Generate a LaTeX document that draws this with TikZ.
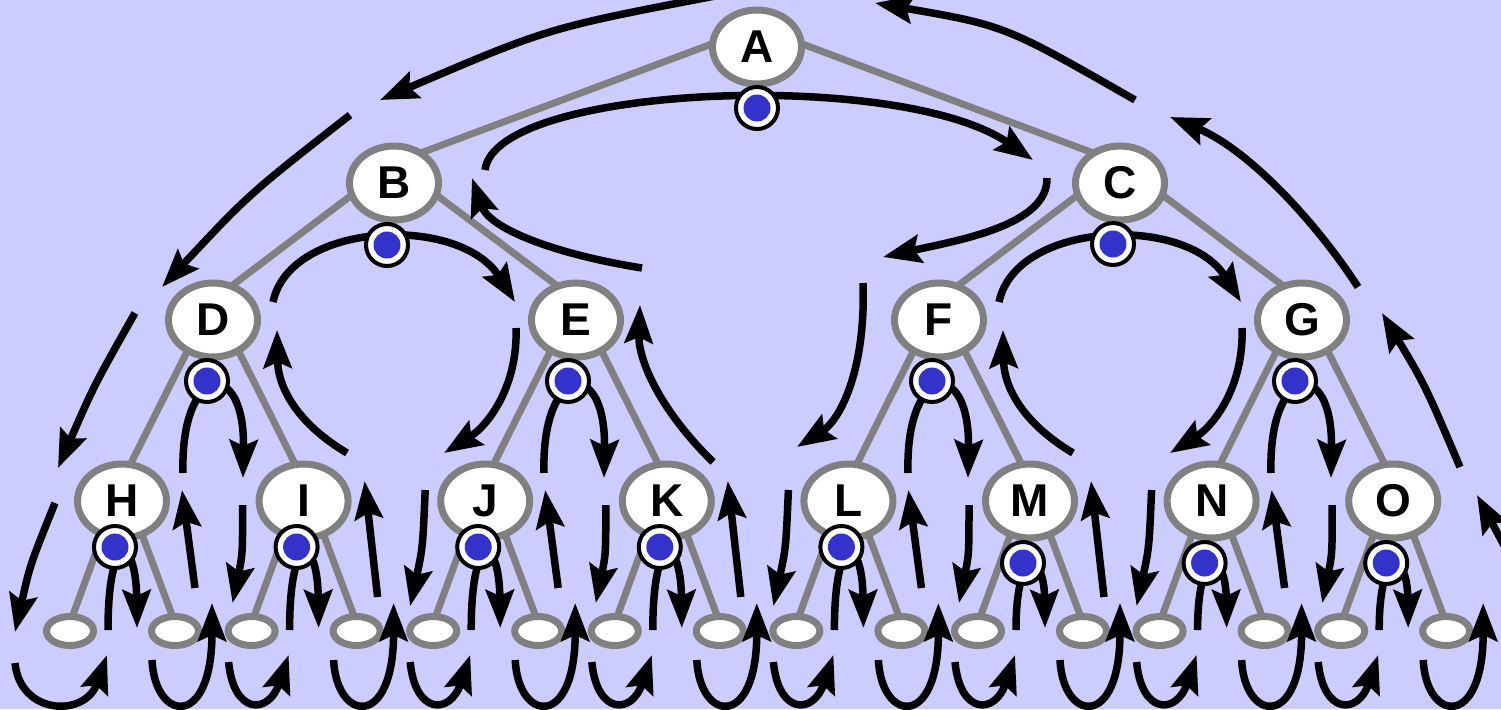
\documentclass[tikz,border=0pt]{standalone}
\usepackage{fontspec}
\setmainfont{Liberation Sans}
\usetikzlibrary{shapes.geometric,arrows.meta,calc}
\definecolor{bgc}{RGB}{204,204,255}
\definecolor{edgegray}{RGB}{128,128,128}
\definecolor{dotblue}{RGB}{51,51,204}
\pgfdeclarelayer{bglayer}
\pgfdeclarelayer{edgelayer}
\pgfsetlayers{bglayer,edgelayer,main}
\tikzset{
  inner/.style={ellipse, draw=edgegray, line width=3.5pt, fill=white,
    minimum width=44.5pt, minimum height=37pt, inner sep=0pt,
    font=\bfseries\fontsize{23pt}{23pt}\selectfont},
  leaf/.style={ellipse, draw=edgegray, line width=3.5pt, fill=white,
    minimum width=23.5pt, minimum height=14.5pt, inner sep=0pt},
  tedge/.style={draw=edgegray, line width=3.5pt},
  dotnode/.style={circle, draw=black, line width=2pt, fill=white,
    minimum size=21pt, inner sep=0pt,
    path picture={\fill[dotblue] (path picture bounding box.center) circle (6.75pt);}},
  tour/.style={line width=3.75pt, -{Stealth[length=19pt,width=14pt,inset=3pt]}},
}
\begin{document}
\begin{tikzpicture}[x=0.5pt,y=-0.5pt]
\useasboundingbox (0,0) rectangle (1501,709);
\begin{pgfonlayer}{bglayer}
\fill[bgc] (0,0) rectangle (1501,709);
\end{pgfonlayer}
\clip (0,0) rectangle (1501,709);

% ---------- tree nodes ----------
\node[inner] (A) at (757,47) {A};
\node[inner] (B) at (394,183) {B};
\node[inner] (C) at (1120,183) {C};
\node[inner] (D) at (213,320) {D};
\node[inner] (E) at (576,320) {E};
\node[inner] (F) at (939,320) {F};
\node[inner] (G) at (1302,320) {G};
\foreach \n/\x in {H/122,I/303.6,J/485.2,K/666.8,L/848.4,M/1030,N/1211.6,O/1393.2}{
  \node[inner] (\n) at (\x,501) {\n};
  \node[leaf] (\n1) at (\x-52,631) {};
  \node[leaf] (\n2) at (\x+53,631) {};
}

% ---------- gray edges (behind nodes) ----------
\begin{pgfonlayer}{edgelayer}
\foreach \p/\c in {A/B,A/C,B/D,B/E,C/F,C/G,D/H,D/I,E/J,E/K,F/L,F/M,G/N,G/O}
  \draw[tedge] ($(\p.center)+(0,-20)$) -- ($(\c.center)+(0,-20)$);
\foreach \n in {H,I,J,K,L,M,N,O}{
  \draw[tedge] ($(\n.center)+(0,-20)$) -- ($(\n1.center)+(0,-8)$);
  \draw[tedge] ($(\n.center)+(0,-20)$) -- ($(\n2.center)+(0,-8)$);
}
\end{pgfonlayer}

% ---------- Euler tour arrows ----------
% outer left arc
\draw[tour] (715,-4) .. controls (548,28) .. (380,100);
\draw[tour] (350,115) .. controls (249,194) .. (162,287);
\draw[tour] (135,313) .. controls (94.5,384.5) .. (58,468);
\draw[tour] (55,503) .. controls (30,565) .. (15,632);
\draw[tour] (15,663) .. controls (20,715) and (85,718) .. (107,655);
% outer right arc
\draw[tour] (1520,575) -- (1477,495);
\draw[tour] (1460,467) .. controls (1425,385) .. (1382,313);
\draw[tour] (1358,287) .. controls (1318,225) and (1250,150) .. (1170,117);
\draw[tour] (1135,100) .. controls (1005,25.5) .. (875,3);
% A visit
\draw[tour] (485,170) .. controls (495,85) and (900,68) .. (1033,160);
% B and C visits
\foreach \dx in {387,1113}
  \draw[tour] (\dx-114,302) .. controls (\dx-97,221) and (\dx+73,214) .. (\dx+128,302);
% D E F G visits
\foreach \dx in {207,568,932,1295}
  \draw[tour] (\dx-24,473) .. controls (\dx-27,365) and (\dx+38,355) .. (\dx+36,478);
% returns and descents between levels
\draw[tour] (642,268) .. controls (560,255) and (490,230) .. (472,178);
\draw[tour] (1047,178) .. controls (1048,225) and (960,240) .. (883,257);
\draw[tour] (516,328) .. controls (518,385) and (489,425) .. (444,453);
\draw[tour] (1242,328) .. controls (1244,385) and (1215,425) .. (1170,453);
\draw[tour] (863,283) .. controls (866,370) and (840,420) .. (797,447);
\draw[tour] (347,453) .. controls (300,425) and (278,390) .. (277,330);
\draw[tour] (1073,453) .. controls (1026,425) and (1004,390) .. (1003,330);
\draw[tour] (713,462) .. controls (660,410) and (638,360) .. (640,305);
% level-3 side arrows
\draw[tour] (195,588) -- (182,490);
\foreach \x in {485.2,848.4,1211.6}{
  \draw[tour] (\x-60,490) .. controls (\x-62.5,548) .. (\x-75,606);
  \draw[tour] (\x+73,588) -- (\x+60,490);
}
\foreach \x in {303.6,666.8,1030}
  \draw[tour] (\x+74,597) -- (\x+61,481);
\foreach \x in {303.6,666.8,1030,1393.2}
  \draw[tour] (\x-61,505) .. controls (\x-61,554) .. (\x-71,603);
% level-3 visits and leaf loops
\foreach \x/\dy in {122/547,303.6/547,485.2/547,666.8/547,848.4/547,1030/563,1211.6/563,1393.2/563}{
  \pgfmathsetmacro\dx{\x-7}
  \draw[tour] (\dx-7,630) .. controls (\dx-7,\dy-17) and (\dx+21,\dy-12) .. (\dx+22,628);
  \draw[tour] (\x+30,660) .. controls (\x+33,722) and (\x+90,730) .. (\x+90,603);
}
\foreach \x in {303.6,485.2,666.8,848.4,1030,1211.6,1393.2}
  \draw[tour] (\x-75,662) .. controls (\x-70,715) and (\x-35,715) .. (\x-15,655);

% ---------- visit dots ----------
\node[dotnode] (dA) at (757,108) {};
\node[dotnode] (dB) at (387,245) {};
\node[dotnode] (dC) at (1113,244) {};
\node[dotnode] (dD) at (207,381) {};
\node[dotnode] (dE) at (568,381) {};
\node[dotnode] (dF) at (932,381) {};
\node[dotnode] (dG) at (1295,381) {};
\foreach \n/\x/\dy in {H/122/547,I/303.6/547,J/485.2/547,K/666.8/547,L/848.4/547,M/1030/563,N/1211.6/563,O/1393.2/563}
  \node[dotnode] (d\n) at (\x-7,\dy) {};
\end{tikzpicture}
\end{document}
